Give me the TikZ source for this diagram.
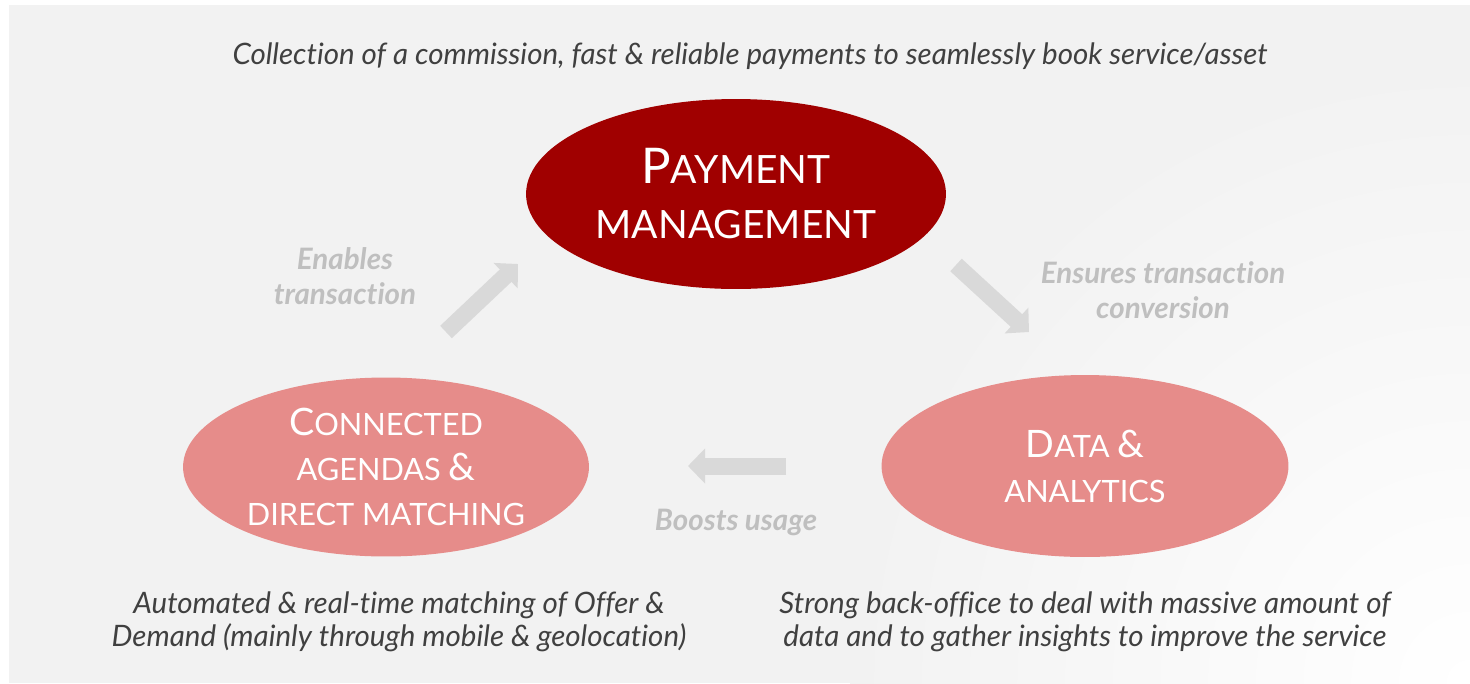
\documentclass[tikz,border=0pt]{standalone}
\usepackage{fontspec}
\setmainfont{Lato}[Ligatures = NoCommon]
\usetikzlibrary{shapes.geometric,arrows.meta}

\definecolor{bggray}{HTML}{F2F2F2}
\definecolor{darkred}{HTML}{A00000}
\definecolor{palered}{HTML}{E68C8A}
\definecolor{textgray}{HTML}{404040}
\definecolor{labelgray}{HTML}{BFBFBF}
\definecolor{arrowgray}{HTML}{D9D9D9}

% bigger first letter for the fake small caps
\newcommand{\initcap}[2]{{\fontsize{#1}{0pt}\selectfont #2}}

\tikzset{
	blob/.style = {ellipse, inner sep = 0pt, text = white, align = center},
	caption/.style = {text = textgray, align = center, font = \fontsize{16.8}{18.8}\selectfont\itshape},
	flowlabel/.style = {text = labelgray, align = center, font = \fontsize{16.8}{20}\selectfont\bfseries\itshape},
	fatarrow/.style = {draw = arrowgray, line width = 0.34cm, -{Triangle[length = 0.34cm, width = 0.68cm]}}
}

\begin{document}
\begin{tikzpicture}[x = 0.02cm, y = -0.02cm]
			\useasboundingbox (0,0) rectangle (1470,683);
			\fill[white] (0,0) rectangle (1470,683);
			\fill[bggray] (9,5) rectangle (1470,683);
			\begin{scope}
				\clip (9,5) rectangle (1470,683);
				\shade[inner color = white, outer color = bggray] (1470,683) circle (620);
			\end{scope}

			\node[blob, fill = darkred, minimum width = 8.4cm, minimum height = 3.8cm, font = \fontsize{22.2}{31.3}\selectfont] (pay) at (736,194) {\initcap{28}{P}AYMENT\\MANAGEMENT};
			\node[blob, fill = palered, minimum width = 8.12cm, minimum height = 3.58cm, font = \fontsize{17.5}{25.6}\selectfont] (agenda) at (386,467) {\initcap{21.5}{C}ONNECTED\\AGENDAS \initcap{21.5}{\&}\\DIRECT MATCHING};
			\node[blob, fill = palered, minimum width = 8.14cm, minimum height = 3.64cm, font = \fontsize{17.5}{25.6}\selectfont] (data) at (1085,466) {\initcap{21.5}{D}ATA \initcap{21.5}{\&}\\ANALYTICS};

			\node[caption, anchor = base] (top) at (750,64) {Collection of a commission, fast \& reliable payments to seamlessly book service/asset};
			\node[caption] (left) at (399,622) {Automated \& real-time matching of Offer \&\\Demand (mainly through mobile \& geolocation)};
			\node[caption] (right) at (1085,622) {Strong back-office to deal with massive amount of\\data and to gather insights to improve the service};

			\node[flowlabel] (enable) at (345,276) {Enables\\transaction};
			\node[flowlabel] (ensure) at (1163,290) {Ensures transaction\\conversion};
			\node[flowlabel, anchor = base] (boost) at (736,530) {Boosts usage};

			\coordinate (e0) at (446,332);
			\coordinate (e1) at (518,264);
			\coordinate (s0) at (956,265);
			\coordinate (s1) at (1029,332);
			\coordinate (b0) at (786,466);
			\coordinate (b1) at (688,466);
			\draw[fatarrow] (e0) -- (e1);
			\draw[fatarrow] (s0) -- (s1);
			\draw[fatarrow] (b0) -- (b1);
		\end{tikzpicture}
\end{document}
